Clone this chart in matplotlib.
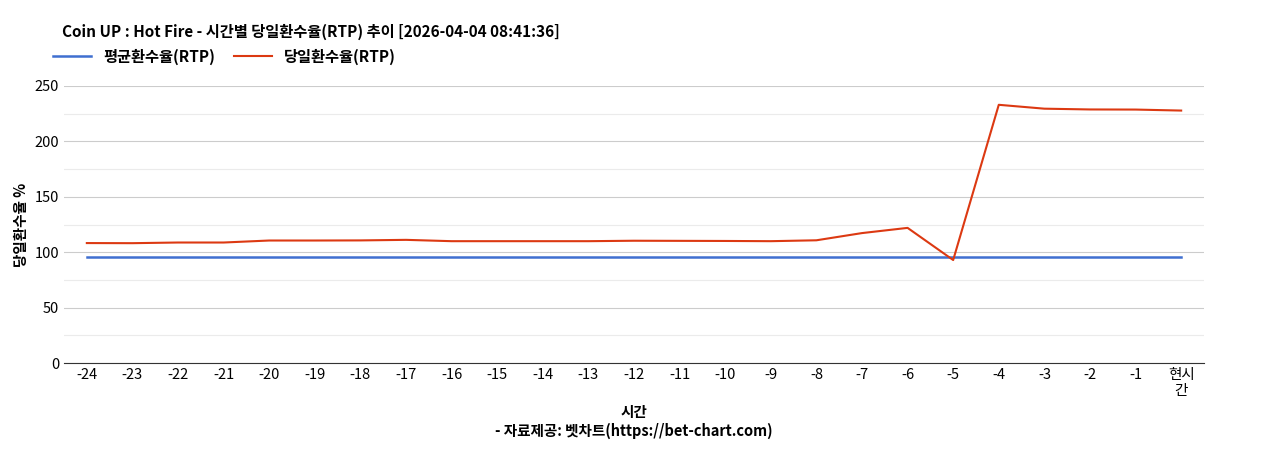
import matplotlib
matplotlib.use("Agg")
import matplotlib.pyplot as plt

plt.rcParams['font.family'] = ['Noto Sans CJK KR', 'DejaVu Sans']

labels = [str(i) for i in range(-24, 0)] + ["현시\n간"]
avg_rtp = [95.7] * 25
day_rtp = [108.3, 108.2, 108.8, 108.8, 110.6, 110.6, 110.7, 111.2, 110.0, 110.0,
           110.0, 110.0, 110.4, 110.3, 110.2, 110.0, 110.8, 117.3, 122.0, 93.0,
           233.0, 229.5, 228.8, 228.7, 227.8]

fig = plt.figure(figsize=(12.68, 4.5), dpi=100)
ax = fig.add_axes([0.0505, 0.193, 0.899, 0.616])
x = range(len(labels))
ax.plot(x, avg_rtp, color="#3f6fd0", lw=1.8, label="평균환수율(RTP)")
ax.plot(x, day_rtp, color="#dc3912", lw=1.5, label="당일환수율(RTP)")

ax.set_xlim(-0.5, len(labels) - 0.5)
ax.set_ylim(0, 250)
ax.set_yticks(range(0, 251, 50))
ax.set_yticks(range(25, 250, 50), minor=True)
ax.grid(axis="y", which="major", color="#cccccc", lw=0.8)
ax.grid(axis="y", which="minor", color="#ebebeb", lw=0.8)
ax.set_axisbelow(True)
ax.set_xticks(list(x))
ax.set_xticklabels(labels, fontsize=10.5)
ax.tick_params(axis="y", which="both", labelsize=10.5, length=0)
ax.tick_params(axis="x", length=0)
for s in ["top", "right", "left"]:
    ax.spines[s].set_visible(False)
ax.spines["bottom"].set_color("#333333")

ax.set_ylabel("당일환수율 %", fontsize=10.5, fontweight="bold")
ax.set_xlabel("시간\n- 자료제공: 벳차트(https://bet-chart.com)", fontsize=10.5,
              fontweight="bold", linespacing=1.2)

fig.text(0.049, 0.93, "Coin UP : Hot Fire - 시간별 당일환수율(RTP) 추이 [2026-04-04 08:41:36]",
         fontsize=11, fontweight="bold", va="center")
ax.legend(loc="lower left", bbox_to_anchor=(-0.015, 1.055), ncol=2, frameon=False,
          prop={"weight": "bold", "size": 11}, handlelength=2.5,
          borderaxespad=0, columnspacing=1.2)

fig.savefig("out.png")
